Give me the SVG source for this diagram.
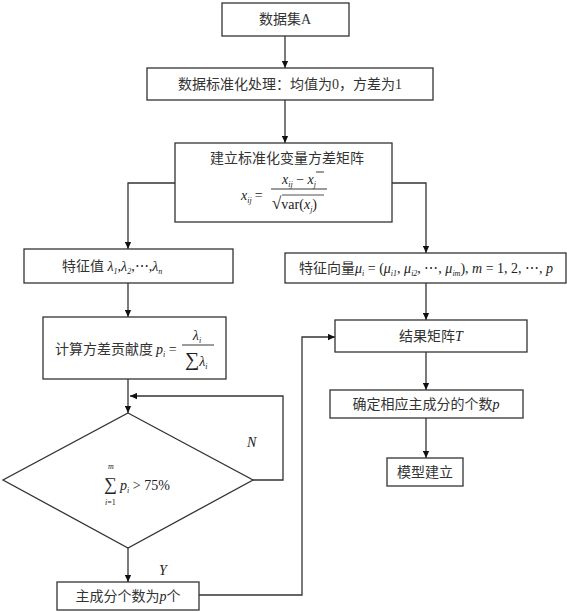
<svg xmlns="http://www.w3.org/2000/svg" width="567" height="612" viewBox="0 0 567 612">
<style>
.box{fill:#fff;stroke:#333;stroke-width:1.3}
.t{font-family:"Liberation Serif","Noto Sans CJK SC",serif;font-size:14px;fill:#333}
.m{font-family:"Liberation Serif",serif;font-size:14px;fill:#222;font-style:italic}
.r{font-style:normal}
.s{font-size:8px}
.c{stroke:#333;stroke-width:1.3;fill:none}
</style>
<defs>
<marker id="ah" viewBox="0 0 10 10" refX="10" refY="5" markerWidth="7" markerHeight="7" orient="auto" markerUnits="userSpaceOnUse">
<path d="M0,0.5 L10,5 L0,9.5 z" fill="#111"/>
</marker>
</defs>
<rect width="567" height="612" fill="#fff"/>
<g id="connectors" class="c">
<path d="M285,36 V68" marker-end="url(#ah)"/>
<path d="M285,100 V143" marker-end="url(#ah)"/>
<path d="M175,183 H128 V249" marker-end="url(#ah)"/>
<path d="M392,183 H426 V253" marker-end="url(#ah)"/>
<path d="M128,283 V317" marker-end="url(#ah)"/>
<path d="M426,283 V320" marker-end="url(#ah)"/>
<path d="M128,379 V413" marker-end="url(#ah)"/>
<path d="M253,480 H283 V396 H130" marker-end="url(#ah)"/>
<path d="M128,548 V582" marker-end="url(#ah)"/>
<path d="M199,595 H302 V337 H335" marker-end="url(#ah)"/>
<path d="M426,352 V390" marker-end="url(#ah)"/>
<path d="M426,418 V458" marker-end="url(#ah)"/>
</g>
<g id="n1"><rect class="box" x="222" y="3" width="127" height="33"/><text class="t" x="285" y="24" text-anchor="middle">数据集A</text></g>
<g id="n2"><rect class="box" x="147" y="68" width="286" height="32"/><text class="t" x="290" y="89" text-anchor="middle">数据标准化处理：均值为0，方差为1</text></g>
<g id="n3"><rect class="box" x="175" y="143" width="217" height="79"/>
<text class="t" x="287" y="163" text-anchor="middle">建立标准化变量方差矩阵</text>
<text class="m" x="241" y="200" font-size="15">x<tspan class="s" dy="3">ij</tspan><tspan class="r" dy="-3" dx="3">=</tspan></text>
<text class="m" x="299" y="184" text-anchor="middle" font-size="15">x<tspan class="s" dy="3">ij</tspan><tspan class="r" dy="-3"> − </tspan>x<tspan class="s" dy="3">j</tspan></text>
<line x1="316" y1="172" x2="324" y2="172" stroke="#222" stroke-width="0.9"/>
<line x1="271" y1="189" x2="327" y2="189" stroke="#222" stroke-width="0.9"/>
<text class="m" x="272" y="209" font-size="15"><tspan class="r" font-size="17">√</tspan><tspan class="r">var</tspan><tspan class="r">(</tspan>x<tspan class="s" dy="3">j</tspan><tspan class="r" dy="-3">)</tspan></text>
<line x1="282" y1="195" x2="324" y2="195" stroke="#222" stroke-width="0.8"/>
</g>
<g id="n4"><rect class="box" x="24" y="249" width="209" height="34"/>
<text class="t" x="62" y="271">特征值 <tspan class="m">λ<tspan class="s" dy="3">1</tspan><tspan class="r" dy="-3">,</tspan>λ<tspan class="s" dy="3">2</tspan><tspan class="r" dy="-3">,⋯,</tspan>λ<tspan class="s" dy="3">n</tspan></tspan></text></g>
<g id="n5"><rect class="box" x="285" y="253" width="281" height="30"/>
<text class="t" x="299" y="273">特征向量<tspan class="m">μ<tspan class="s" dy="3">i</tspan><tspan class="r" dy="-3"> = (</tspan>μ<tspan class="s" dy="3">i1</tspan><tspan class="r" dy="-3">, </tspan>μ<tspan class="s" dy="3">i2</tspan><tspan class="r" dy="-3">, ⋯, </tspan>μ<tspan class="s" dy="3">im</tspan><tspan class="r" dy="-3">), </tspan>m<tspan class="r"> = 1, 2, ⋯, </tspan>p</tspan></text></g>
<g id="n6"><rect class="box" x="43" y="317" width="183" height="62"/>
<text class="t" x="55" y="354">计算方差贡献度</text>
<text class="m" x="156" y="354">p<tspan class="s" dy="3">i</tspan><tspan class="r" dy="-3"> =</tspan></text>
<text class="m" x="197" y="340" text-anchor="middle">λ<tspan class="s" dy="3">i</tspan></text>
<line x1="182" y1="345" x2="214" y2="345" stroke="#222" stroke-width="0.9"/>
<text class="m" x="185" y="366"><tspan class="r" font-size="20">∑</tspan>λ<tspan class="s" dy="3">i</tspan></text></g>
<g id="n8"><polygon class="box" points="128,413 253,480 128,548 3,480"/>
<text class="m" x="104" y="490"><tspan class="r" font-size="18">∑</tspan></text>
<text class="m s" x="108" y="469">m</text>
<text class="m s" x="105" y="505">i<tspan class="r">=1</tspan></text>
<text class="m" x="120" y="490" font-size="15">p<tspan class="s" dy="3">i</tspan><tspan class="r" dy="-3"> &gt; 75%</tspan></text></g>
<g id="n7"><rect class="box" x="335" y="320" width="192" height="32"/>
<text class="t" x="431" y="341" text-anchor="middle">结果矩阵<tspan class="m">T</tspan></text></g>
<g id="n9"><rect class="box" x="330" y="390" width="193" height="28"/>
<text class="t" x="426" y="409" text-anchor="middle">确定相应主成分的个数<tspan class="m">p</tspan></text></g>
<g id="n10"><rect class="box" x="387" y="458" width="76" height="28"/>
<text class="t" x="425" y="477" text-anchor="middle">模型建立</text></g>
<g id="n11"><rect class="box" x="57" y="582" width="142" height="28"/>
<text class="t" x="128" y="601" text-anchor="middle">主成分个数为<tspan class="m">p</tspan>个</text></g>
<g id="labels">
<text class="m" x="247" y="447">N</text>
<text class="m" x="159" y="575">Y</text>
</g>
</svg>
